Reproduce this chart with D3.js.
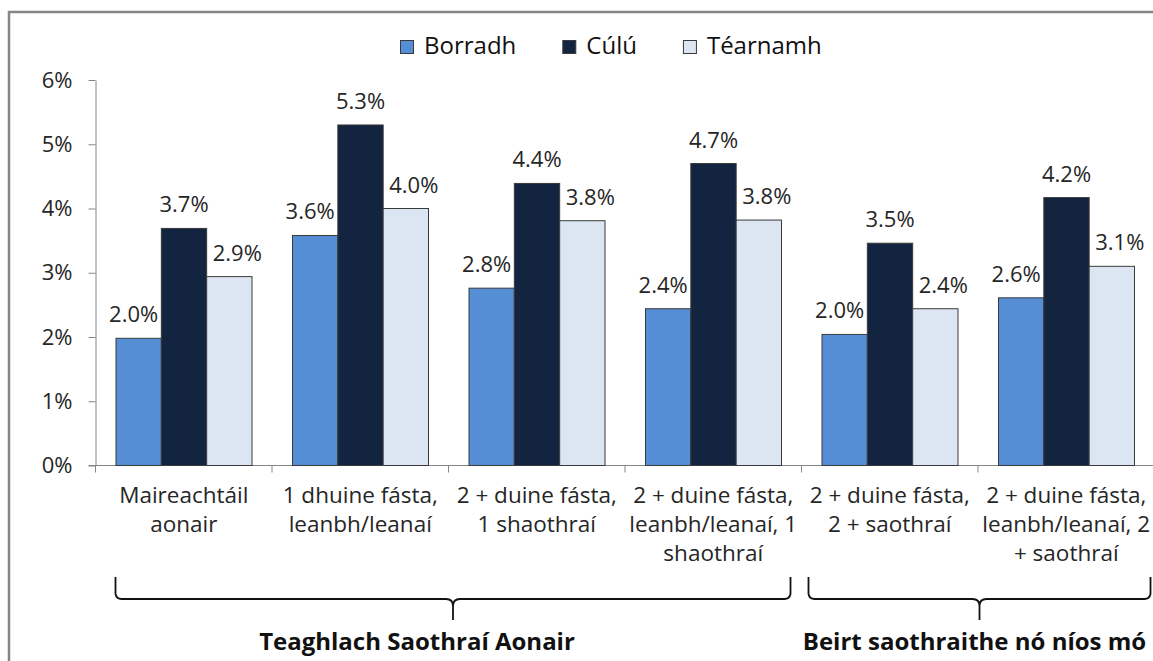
<!DOCTYPE html>
<html>
<head>
<meta charset="utf-8">
<script src="https://cdn.jsdelivr.net/npm/d3@7"></script>
<style>
  body { margin: 0; background: #fff; }
  svg { display: block; font-family: "Open Sans", sans-serif; }
</style>
</head>
<body>
<svg id="chart"></svg>
<script>
// categories (line breaks as in the original axis)
const categories = [
    "Maireachtáil\naonair",
    "1 dhuine fásta,\nleanbh/leanaí",
    "2 + duine fásta,\n1 shaothraí",
    "2 + duine fásta,\nleanbh/leanaí, 1\nshaothraí",
    "2 + duine fásta,\n2 + saothraí",
    "2 + duine fásta,\nleanbh/leanaí, 2\n+ saothraí"
];
const seriesNames = ["Borradh", "Cúlú", "Téarnamh"];
const borradh = [1.98, 3.58, 2.76, 2.44, 2.04, 2.61];
const culu = [3.69, 5.30, 4.39, 4.70, 3.46, 4.17];
const tearnamh = [2.94, 4.00, 3.81, 3.82, 2.44, 3.10];
const yTicks = [0, 1, 2, 3, 4, 5, 6];
const groupNames = ["Teaghlach Saothraí Aonair", "Beirt saothraithe nó níos mó"];
const groupSpans = [[0, 3], [4, 5]];

const colors = ["#558ED5", "#12243F", "#DCE6F2"];
const labelDx = [-5, 0, 8];

const W = 1153, H = 661;
const svg = d3.select("#chart").attr("width", W).attr("height", H);

// outer chart border (runs past the bottom/right edges)
svg.append("rect").attr("x", 9).attr("y", 12).attr("width", W + 20).attr("height", H + 20)
    .attr("fill", "none").attr("stroke", "#868686").attr("stroke-width", 2.5);

const left = 95.5, bandW = 176.5;
const x0 = d3.scaleBand().domain(categories).range([left, left + bandW * categories.length]);
const x1 = d3.scaleBand().domain(seriesNames).range([20.5, 156.5]);
const y = d3.scaleLinear().domain([0, 6]).range([465.5, 80]);

const data = seriesNames.map((s, i) => ({ name: s, values: [borradh, culu, tearnamh][i] }));

// y axis
const yAxis = svg.append("g").attr("transform", `translate(${left},0)`)
    .call(d3.axisLeft(y).tickValues(yTicks).tickFormat(d => d + "%").tickSize(7).tickSizeOuter(0).tickPadding(16));
yAxis.select(".domain").attr("stroke", "#868686");
yAxis.selectAll(".tick line").attr("stroke", "#868686");
yAxis.selectAll(".tick text").attr("font-size", 22).attr("fill", "#262626")
    .attr("font-family", "Open Sans, sans-serif");

// x axis line + category separators
const xEnd = left + bandW * categories.length;
svg.append("line").attr("x1", left - 7).attr("x2", xEnd).attr("y1", y(0)).attr("y2", y(0))
    .attr("stroke", "#868686");
const bounds = categories.map(c => x0(c)).concat([xEnd]);
svg.selectAll(".xtick").data(bounds).join("line")
    .attr("x1", d => d).attr("x2", d => d).attr("y1", y(0)).attr("y2", y(0) + 7)
    .attr("stroke", "#868686");

// bars
data.forEach((s, si) => {
    svg.append("g").selectAll("rect").data(s.values).join("rect")
        .attr("x", (d, i) => x0(categories[i]) + x1(s.name))
        .attr("y", d => y(d))
        .attr("width", x1.bandwidth())
        .attr("height", d => y(0) - y(d))
        .attr("fill", colors[si])
        .attr("stroke", "#3a3a3a").attr("stroke-width", 1);
    svg.append("g").selectAll("text").data(s.values).join("text")
        .attr("x", (d, i) => x0(categories[i]) + x1(s.name) + x1.bandwidth() / 2 + labelDx[si])
        .attr("y", d => y(d) - 16)
        .attr("text-anchor", "middle").attr("font-size", 22).attr("fill", "#262626")
        .text(d => d3.format(".1f")(d) + "%");
});

// category labels
categories.forEach(c => {
    const t = svg.append("text").attr("text-anchor", "middle").attr("font-size", 22.5).attr("fill", "#262626");
    c.split("\n").forEach((line, k) => {
        t.append("tspan").attr("x", x0(c) + bandW / 2).attr("y", 503 + k * 29).text(line);
    });
});

// braces and group labels
const braceTop = 577, braceMid = 599, braceTip = 620;
const braceInset = [[20, 11], [7, 4]];
const groupDx = [-36, -5];
groupSpans.forEach((span, gi) => {
    const a = x0(categories[span[0]]) + braceInset[gi][0];
    const b = x0(categories[span[1]]) + bandW - braceInset[gi][1];
    const cx = (a + b) / 2;
    const p = d3.path();
    p.moveTo(a, braceTop); p.lineTo(a, braceMid - 5);
    p.quadraticCurveTo(a + 1, braceMid, a + 6, braceMid);
    p.lineTo(cx - 7, braceMid); p.quadraticCurveTo(cx, braceMid, cx, braceMid + 7);
    p.lineTo(cx, braceTip);
    p.moveTo(b, braceTop); p.lineTo(b, braceMid - 5);
    p.quadraticCurveTo(b - 1, braceMid, b - 6, braceMid);
    p.lineTo(cx + 7, braceMid); p.quadraticCurveTo(cx, braceMid, cx, braceMid + 7);
    svg.append("path").attr("d", p.toString()).attr("fill", "none")
        .attr("stroke", "#111").attr("stroke-width", 1.8);
    svg.append("text").attr("x", cx + groupDx[gi]).attr("y", 650)
        .attr("text-anchor", "middle").attr("font-size", 24).attr("font-weight", "bold")
        .attr("fill", "#111").text(groupNames[gi]);
});

// legend
let lx = 400;
seriesNames.forEach((s, i) => {
    svg.append("rect").attr("x", lx + 0.5).attr("y", 40.5).attr("width", 13).attr("height", 13)
        .attr("fill", colors[i]).attr("stroke", "#3a3a3a");
    const t = svg.append("text").attr("x", lx + 24).attr("y", 54).attr("font-size", 24)
        .attr("fill", "#111").text(s);
    lx += 24 + t.node().getComputedTextLength() + 46;
});
</script>
</body>
</html>
